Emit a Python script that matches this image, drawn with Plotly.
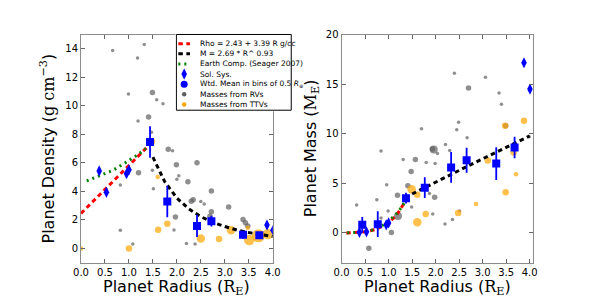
import plotly.graph_objects as go

# ---------------- data ----------------
# Left panel: density vs radius
rv_rad_L = [0.66, 1.32, 1.18, 0.99, 1.19, 1.49, 1.58, 1.71, 1.41, 1.47, 1.82, 1.91, 1.99, 1.20, 1.49,
            2.04, 2.00, 1.51, 0.82, 1.97, 1.94, 0.82, 1.08, 2.42, 2.23, 2.72, 2.34, 2.30, 2.50, 2.57,
            3.08, 2.72, 2.69, 2.20, 2.38, 3.38, 3.43, 3.48]
rv_rho_L = [13.88, 14.3, 13.35, 10.82, 8.93, 10.94, 10.43, 10.15, 9.21, 8.15, 6.95, 6.85, 5.87, 5.3, 5.48,
            5.1, 4.85, 4.19, 4.45, 2.2, 1.29, 1.27, 0.3, 6.0, 4.68, 4.03, 3.41, 3.3, 3.29, 3.11,
            2.9, 2.56, 2.26, 0.35, 0.3, 2.03, 1.8, 1.57]
rv_wt_L = [1, 1, 1, 1, 1, 2, 1, 1, 2, 1, 2, 1, 2, 2, 1,
           1, 1, 1, 1, 2, 1, 1, 1, 2, 2, 2, 2, 2, 1, 1,
           2, 2, 2, 1, 1, 2, 2, 2]

ttv_rad_L = [0.0, 1.0, 1.48, 1.60, 1.80, 1.61, 2.50, 2.88, 3.13, 3.51, 3.70, 3.90, 3.48]
ttv_rho_L = [0.0, 0.0, 7.5, 5.0, 1.73, 1.31, 0.69, 0.65, 1.27, 0.58, 0.88, 1.0, 1.45]
ttv_wt_L = [1, 2, 2, 1, 2, 2, 3, 2, 3, 4, 5, 4, 1]

rho_fit_R = [0.0, 1.5]
rho_fit_rho = [2.45, 7.5]
mfit_R = [1.5, 1.75, 2.0, 2.25, 2.5, 2.75, 3.0, 3.25, 3.5, 3.75, 4.0]
mfit_rho = [6.40, 4.65, 3.53, 2.77, 2.22, 1.83, 1.53, 1.29, 1.11, 0.96, 0.84]
earth_R = [0.12, 0.4, 0.67, 0.95, 1.2, 1.35]
earth_rho = [4.74, 5.1, 5.48, 6.06, 6.6, 7.0]

sol_R = [0.38, 0.53, 0.95, 1.0, 3.88, 4.007]
sol_rho = [5.43, 3.93, 5.24, 5.51, 1.64, 1.27]
sol_rho_err = [0.22, 0.22, 0.22, 0.22, 0.25, 0.25]
sol_mass = [0.055, 0.107, 0.815, 1.0, 17.15, 14.5]
sol_mass_err = [0.2, 0.2, 0.2, 0.2, 0.35, 0.35]

bin_R_L = [1.44, 1.80, 2.42, 2.72, 3.38, 3.72]
bin_rho = [7.46, 3.29, 1.57, 1.91, 0.95, 0.92]
bin_rho_err = [1.1, 1.1, 0.78, 0.38, 0.25, 0.15]

# Right panel: mass vs radius
rv_rad_R = [3.40, 2.49, 2.45, 1.70, 2.67, 0.84, 1.96, 1.93, 2.21, 2.30, 2.04, 1.31, 1.57, 1.80, 1.99,
            1.48, 0.96, 1.41, 1.19, 1.87, 1.98, 0.75, 1.49, 0.32, 0.99, 2.51, 1.94, 1.20, 0.84, 2.36,
            2.20, 1.06, 0.58, 2.40, 3.06, 2.70, 3.35, 3.49, 3.99]
rv_mass_R = [12.96, 11.15, 10.4, 10.5, 9.6, 8.25, 8.4, 8.45, 8.9, 8.3, 8.0, 7.4, 7.4, 7.1, 7.0,
             6.2, 4.85, 4.75, 3.8, 3.96, 3.6, 3.35, 2.6, 2.8, 2.2, 2.2, 1.9, 1.7, 1.5, 1.35,
             0.9, 0.05, -1.55, 16.1, 15.7, 14.6, 14.1, 10.8, 9.7]
rv_wt_R = [1, 1, 1, 1, 1, 1, 3, 2, 1, 1, 1, 1, 2, 1, 1,
           2, 1, 2, 2, 1, 2, 1, 1, 1, 1, 1, 1, 3, 1, 1,
           1, 2, 2, 1, 1, 2, 1, 2, 1]

ttv_rad_R = [3.88, 3.48, 3.66, 3.11, 3.71, 3.49, 2.86, 2.48, 1.79, 1.61, 1.49, 1.61]
ttv_mass_R = [11.3, 10.8, 8.1, 7.3, 5.9, 4.1, 2.9, 2.0, 1.9, 1.08, 4.4, 3.85]
ttv_wt_R = [2, 2, 2, 2, 1, 2, 1, 2, 2, 3, 3, 2]

rho_fit_R2 = [0.1, 0.25, 0.5, 0.75, 1.0, 1.15, 1.35]
rho_fit_mass = [0.0, 0.01, 0.094, 0.381, 1.056, 1.66, 3.13]
mfit_R2 = [1.5, 1.75, 2.0, 2.25, 2.5, 2.75, 3.0, 3.25, 3.5, 3.75, 4.0]
mfit_mass = [3.92, 4.53, 5.12, 5.72, 6.31, 6.89, 7.47, 8.05, 8.62, 9.20, 9.77]
earth_R2 = [0.12, 0.4, 0.67, 0.95, 1.2, 1.35]
earth_mass = [0.0015, 0.059, 0.30, 0.94, 2.07, 3.13]

bin_R_R = [0.44, 0.77, 1.37, 1.77, 2.33, 2.66, 3.29, 3.68]
bin_mass = [0.82, 0.88, 3.5, 4.56, 6.6, 7.32, 6.99, 8.6]
bin_mass_err = [0.78, 1.3, 0.55, 1.05, 1.55, 1.27, 1.65, 1.08]

legend_labels = ["Rho = 2.43 + 3.39 R g/cc", "M = 2.69 * R^ 0.93", "Earth Comp. (Seager 2007)",
                 "Sol. Sys.", "Wtd. Mean in bins of 0.5 <i>R</i><sub>⊕</sub>",
                 "Masses from RVs", "Masses from TTVs"]

# ---------------- page geometry (body margin removed in the page) ----------------
W, H = 600, 300


def px_x(p):
    return p / W


def px_y(p):
    return 1 - p / H


# ---------------- styles ----------------
GRAY = "#5f5f5f"
ORANGE = "#FFA500"
BLUE = "#0000FF"
gray_size = {1: 3.5, 2: 5.5, 3: 8}
orange_size = {1: 4.5, 2: 6.5, 3: 8.5, 4: 10.5, 5: 13}
RED_LINE = dict(color="red", width=3, dash="4.5px,3.5px")
BLK_LINE = dict(color="black", width=3, dash="4.5px,3.5px")
GRN_LINE = dict(color="green", width=3, dash="2px,4px")

fig = go.Figure()


def add_panel(xa, ya, rv_x, rv_y, rv_w, tt_x, tt_y, tt_w,
              red_x, red_y, blk_x, blk_y, grn_x, grn_y,
              sol_y, sol_err, b_x, b_y, b_err):
    fig.add_trace(go.Scatter(x=rv_x, y=rv_y, mode="markers", xaxis=xa, yaxis=ya,
                             marker=dict(color=GRAY, size=[gray_size[w] for w in rv_w], line=dict(width=0))))
    fig.add_trace(go.Scatter(x=tt_x, y=tt_y, mode="markers", xaxis=xa, yaxis=ya,
                             marker=dict(color=ORANGE, size=[orange_size[w] for w in tt_w], line=dict(width=0))))
    fig.add_trace(go.Scatter(x=red_x, y=red_y, mode="lines", xaxis=xa, yaxis=ya, line=RED_LINE))
    fig.add_trace(go.Scatter(x=blk_x, y=blk_y, mode="lines", xaxis=xa, yaxis=ya, line=BLK_LINE))
    fig.add_trace(go.Scatter(x=grn_x, y=grn_y, mode="lines", xaxis=xa, yaxis=ya, line=GRN_LINE))
    fig.add_trace(go.Scatter(x=sol_R, y=sol_y, mode="markers", xaxis=xa, yaxis=ya,
                             marker=dict(color=BLUE, symbol="diamond-tall", size=8, line=dict(width=0)),
                             error_y=dict(type="data", array=sol_err, color=BLUE, thickness=1.2, width=0)))
    fig.add_trace(go.Scatter(x=b_x, y=b_y, mode="markers", xaxis=xa, yaxis=ya,
                             marker=dict(color=BLUE, symbol="square", size=8, line=dict(width=0)),
                             error_y=dict(type="data", array=b_err, color=BLUE, thickness=1.8, width=0)))


add_panel("x", "y", rv_rad_L, rv_rho_L, rv_wt_L, ttv_rad_L, ttv_rho_L, ttv_wt_L,
          rho_fit_R, rho_fit_rho, mfit_R, mfit_rho, earth_R, earth_rho,
          sol_rho, sol_rho_err, bin_R_L, bin_rho, bin_rho_err)
add_panel("x2", "y2", rv_rad_R, rv_mass_R, rv_wt_R, ttv_rad_R, ttv_mass_R, ttv_wt_R,
          rho_fit_R2, rho_fit_mass, mfit_R2, mfit_mass, earth_R2, earth_mass,
          sol_mass, sol_mass_err, bin_R_R, bin_mass, bin_mass_err)

# ---------------- legend (overlay axis in screen-pixel units) ----------------
LX0, LX1, LY0, LY1 = 172, 292, 29, 108
fig.add_trace(go.Scatter(x=[LX0 + 1, LX1 - 1, LX1 - 1, LX0 + 1, LX0 + 1],
                         y=[LY0 + 1, LY0 + 1, LY1 - 1, LY1 - 1, LY0 + 1],
                         mode="lines", fill="toself", fillcolor="white",
                         line=dict(color="black", width=1), xaxis="x3", yaxis="y3"))
row_y = [39.3 + 10.3 * i for i in range(7)]
key_x0, key_x1, key_xm, text_x = 175, 187, 181, 195
key_lines = [RED_LINE, BLK_LINE, GRN_LINE]
for i, ln in enumerate(key_lines):
    fig.add_trace(go.Scatter(x=[key_x0, key_x1], y=[row_y[i], row_y[i]], mode="lines",
                             xaxis="x3", yaxis="y3", line=ln))
key_markers = [dict(color=BLUE, symbol="diamond-tall", size=8),
               dict(color=BLUE, symbol="circle", size=7),
               dict(color=GRAY, symbol="circle", size=4.5),
               dict(color=ORANGE, symbol="circle", size=4.5)]
for j, mk in enumerate(key_markers):
    fig.add_trace(go.Scatter(x=[key_xm], y=[row_y[3 + j]], mode="markers", xaxis="x3", yaxis="y3",
                             marker=dict(line=dict(width=0), **mk)))
for i, lab in enumerate(legend_labels):
    fig.add_annotation(text=lab, xref="x3", yref="y3", x=text_x, y=row_y[i], showarrow=False,
                       xanchor="left", yanchor="middle",
                       font=dict(family="DejaVu Sans", size=7.5, color="black"))

axis_common = dict(showline=True, linecolor="#8c8c8c", linewidth=1, mirror="ticks",
                   ticks="inside", ticklen=4, tickcolor="#666666", showgrid=False, zeroline=False,
                   tickfont=dict(family="DejaVu Sans", size=10, color="black"))

fig.update_layout(
    width=W, height=H,
    margin=dict(l=0, r=0, t=0, b=0),
    paper_bgcolor="white", plot_bgcolor="white",
    font=dict(family="DejaVu Sans", color="black"),
    showlegend=False,
    xaxis=dict(domain=[px_x(75), px_x(272)], range=[0, 4], dtick=0.5, tick0=0, tickformat=".1f", **axis_common),
    yaxis=dict(domain=[px_y(262), px_y(30)], range=[-1, 15], dtick=2, tick0=0, **axis_common),
    xaxis2=dict(domain=[px_x(342.7), px_x(539.3)], range=[0, 4.07], dtick=0.5, tick0=0, tickformat=".1f",
                anchor="y2", **axis_common),
    yaxis2=dict(domain=[px_y(262), px_y(30)], range=[-3, 20], dtick=5, tick0=0, anchor="x2",
                **axis_common),
    xaxis3=dict(domain=[px_x(LX0), px_x(LX1)], range=[LX0, LX1], visible=False, anchor="y3", fixedrange=True),
    yaxis3=dict(domain=[px_y(LY1), px_y(LY0)], range=[LY1, LY0], visible=False, anchor="x3", fixedrange=True),
)

serif = '<span style="font-family:DejaVu Serif">'
title_font = dict(family="DejaVu Sans", size=16, color="black")
for cx in [(75 + 272) / 2, (342.7 + 539.3) / 2]:
    fig.add_annotation(text="Planet Radius (" + serif + "R<sub>E</sub></span>)", xref="paper", yref="paper",
                       x=px_x(cx), y=px_y(287), showarrow=False, font=title_font,
                       xanchor="center", yanchor="middle")
fig.add_annotation(text="Planet Density (" + serif + "g cm<sup>−3</sup></span>)", xref="paper", yref="paper",
                   x=px_x(41), y=px_y(146), showarrow=False, font=title_font, textangle=-90,
                   xanchor="center", yanchor="middle")
fig.add_annotation(text="Planet Mass (" + serif + "M<sub>E</sub></span>)", xref="paper", yref="paper",
                   x=px_x(312), y=px_y(146), showarrow=False, font=title_font, textangle=-90,
                   xanchor="center", yanchor="middle")

fig.write_html("out.html", post_script="document.body.style.margin='0px';",
               config={"displayModeBar": False, "staticPlot": True})
